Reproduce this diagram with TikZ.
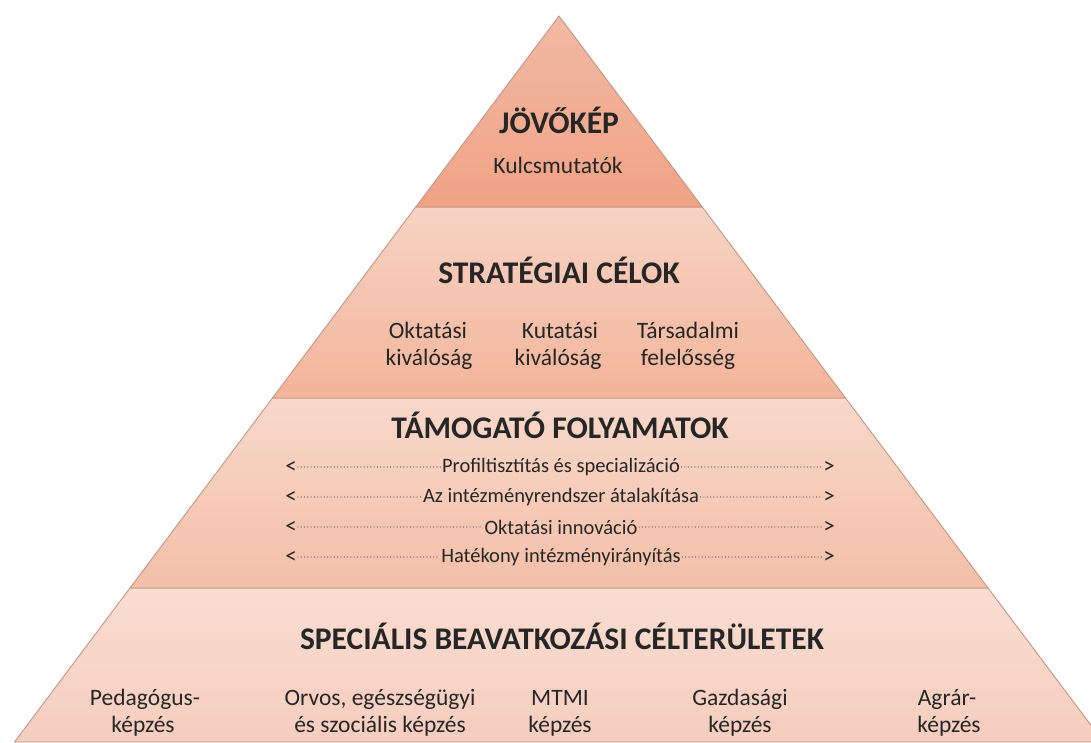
\documentclass[tikz,border=0pt]{standalone}
\usepackage{fontspec}
\setmainfont{Carlito}
\definecolor{edge}{HTML}{C09484}
\definecolor{txt}{HTML}{262626}
\definecolor{dots}{HTML}{8C7C76}
\definecolor{la}{HTML}{F1BAA4}
\definecolor{lb}{HTML}{F1A284}
\definecolor{ma}{HTML}{F7D3C4}
\definecolor{mb}{HTML}{F3B49A}
\definecolor{na}{HTML}{F8D8CA}
\definecolor{nb}{HTML}{F4BFA8}
\definecolor{oa}{HTML}{F9DDD1}
\definecolor{ob}{HTML}{F6CDBE}
\begin{document}
\begin{tikzpicture}[x=1pt,y=-1pt,
  layer/.style={draw=edge, line width=0.9pt},
  heading/.style={font=\fontsize{31.5}{36}\selectfont\bfseries, text=txt, inner sep=0pt, anchor=base},
  body/.style={font=\fontsize{23.5}{28}\selectfont, text=txt, inner sep=0pt, anchor=base},
  small/.style={font=\fontsize{20.5}{24}\selectfont, text=txt, inner sep=1.5pt},
  tip/.style={font=\fontsize{23}{24}\selectfont, text=txt, inner sep=1pt},
  dotline/.style={draw=dots, line width=1.1pt, dash pattern=on 0.01pt off 3.3pt, line cap=round}]
\useasboundingbox (0,0) rectangle (1091,742);
\begin{scope}
\clip (0,0) rectangle (1091,742);
% layer 4 (bottom)
\path[layer, top color=oa, bottom color=ob] (130,588) -- (988,588) -- (1103.5,742) -- (14.5,742) -- cycle;
\end{scope}
% layer 3
\path[layer, top color=na, bottom color=nb] (272.5,398) -- (845.5,398) -- (988,588) -- (130,588) -- cycle;
% layer 2
\path[layer, top color=ma, bottom color=mb] (415.75,207) -- (702.25,207) -- (845.5,398) -- (272.5,398) -- cycle;
% layer 1
\path[layer, top color=la, bottom color=lb] (559,16) -- (702.25,207) -- (415.75,207) -- cycle;

% texts layer 1
\node[heading] (h1) at (559,133) {JÖVŐKÉP};
\node[body] (k1) at (558,173) {Kulcsmutatók};
% layer 2
\node[heading] (h2) at (559,283) {STRATÉGIAI CÉLOK};
\node[body] (s1a) at (428,338) {Oktatási};
\node[body] (s1b) at (429,365) {kiválóság};
\node[body] (s2a) at (560,338) {Kutatási};
\node[body] (s2b) at (558,365) {kiválóság};
\node[body] (s3a) at (688,338) {Társadalmi};
\node[body] (s3b) at (688,365) {felelősség};
% layer 3
\node[heading] (h3) at (560,438) {TÁMOGATÓ FOLYAMATOK};
\foreach \i/\y/\t in {1/467/{Profiltisztítás és specializáció},
                     2/497/{Az intézményrendszer átalakítása},
                     3/527/{Oktatási innováció},
                     4/557/{Hatékony intézményirányítás}}{
  \node[tip] (l\i) at (291,\y) {<};
  \node[tip] (r\i) at (829,\y) {>};
  \node[small] (p\i) at (561,\y) {\t};
  \draw[dotline] (l\i.east) -- (p\i.west);
  \draw[dotline] (p\i.east) -- (r\i.west);
}
% layer 4
\node[heading] (h4) at (562,649) {SPECIÁLIS BEAVATKOZÁSI CÉLTERÜLETEK};
\node[body] (b1a) at (145,705) {Pedagógus-};
\node[body] (b1b) at (143,732) {képzés};
\node[body] (b2a) at (380,705) {Orvos, egészségügyi};
\node[body] (b2b) at (380,732) {és szociális képzés};
\node[body] (b3a) at (560,705) {MTMI};
\node[body] (b3b) at (560,732) {képzés};
\node[body] (b4a) at (740,705) {Gazdasági};
\node[body] (b4b) at (740,732) {képzés};
\node[body] (b5a) at (947,705) {Agrár-};
\node[body] (b5b) at (949,732) {képzés};
\end{tikzpicture}
\end{document}
